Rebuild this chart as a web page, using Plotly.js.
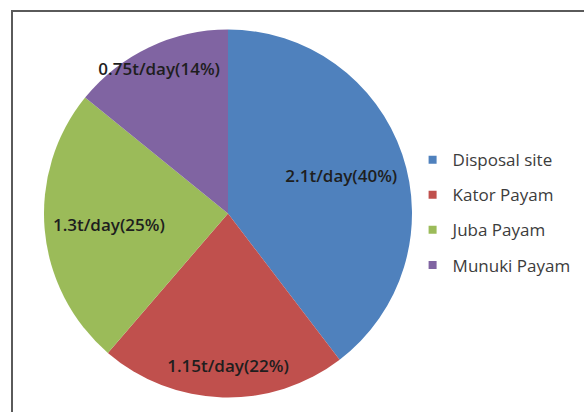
<!DOCTYPE html>
<html>
<head>
<meta charset="utf-8">
<script src="https://cdn.plot.ly/plotly-3.0.1.min.js"></script>
<style>
  html, body { margin: 0; padding: 0; background: #ffffff; }
  #wrap { position: relative; width: 584px; height: 412px; overflow: hidden; }
  #chart { position: absolute; left: 0; top: 0; width: 584px; height: 412px; }
  #frame {
    position: absolute; left: 11px; top: 10px; right: -5px; bottom: -5px;
    border-top: 2px solid #5a5a5a; border-left: 2px solid #5a5a5a;
    pointer-events: none;
  }
</style>
</head>
<body>
<div id="wrap">
  <div id="chart"></div>
  <div id="frame"></div>
</div>
<script>
// Daily waste quantities by source (tonnes per day)
const categories = ['Disposal site', 'Kator Payam', 'Juba Payam', 'Munuki Payam'];
const tonsPerDay = [2.1, 1.15, 1.3, 0.75];
const sliceColors = ['#4F81BD', '#C0504D', '#9BBB59', '#8064A2'];

const pieDomain = { x: [0.0753, 0.7055], y: [0.0352, 0.9284] };
const labelFmt = '%{value}t/day(%{percent:.0%})';

// Solid slices
const pie = {
  type: 'pie',
  labels: categories,
  values: tonsPerDay,
  sort: false,
  direction: 'clockwise',
  rotation: 0,
  marker: { colors: sliceColors, line: { width: 0 } },
  textinfo: 'none',
  domain: pieDomain,
  showlegend: false,
  hoverinfo: 'none'
};

// Transparent rings over the same slices that carry the value labels:
// wide slices keep their label mid-way, narrow ones nearer the rim
function labelRing(hole, shown) {
  return {
    type: 'pie',
    labels: categories,
    values: tonsPerDay,
    sort: false,
    direction: 'clockwise',
    rotation: 0,
    hole: hole,
    marker: { colors: sliceColors.map(() => 'rgba(0,0,0,0)'), line: { width: 0 } },
    texttemplate: categories.map((c, i) => shown.includes(i) ? labelFmt : ''),
    textposition: 'inside',
    insidetextorientation: 'horizontal',
    insidetextfont: { family: '"Open Sans", sans-serif', size: 17, color: '#1e1e1e', weight: 600 },
    domain: pieDomain,
    showlegend: false,
    hoverinfo: 'none'
  };
}

// Legend entries, one per category, each in its own group so rows can be spaced apart
const legendEntries = categories.map((name, i) => ({
  type: 'scatter',
  mode: 'markers',
  x: [null],
  y: [null],
  name: name,
  legendgroup: 'g' + i,
  marker: { symbol: 'square', size: 8, color: sliceColors[i] },
  hoverinfo: 'none'
}));

const layout = {
  width: 584,
  height: 412,
  margin: { l: 0, r: 0, t: 0, b: 0 },
  paper_bgcolor: '#ffffff',
  plot_bgcolor: '#ffffff',
  xaxis: { visible: false },
  yaxis: { visible: false },
  uniformtext: { mode: 'show', minsize: 17 },
  showlegend: true,
  legend: {
    x: 0.7065,
    y: 0.484,
    xanchor: 'left',
    yanchor: 'middle',
    tracegroupgap: 10,
    itemwidth: 30,
    font: { family: '"Open Sans", sans-serif', size: 17, color: '#3c3c3c' },
    bgcolor: 'rgba(0,0,0,0)'
  }
};

const traces = [pie, labelRing(0.3, [0, 2]), labelRing(0.74, [1, 3])].concat(legendEntries);
Plotly.newPlot('chart', traces, layout, { staticPlot: true, displayModeBar: false });
</script>
</body>
</html>
